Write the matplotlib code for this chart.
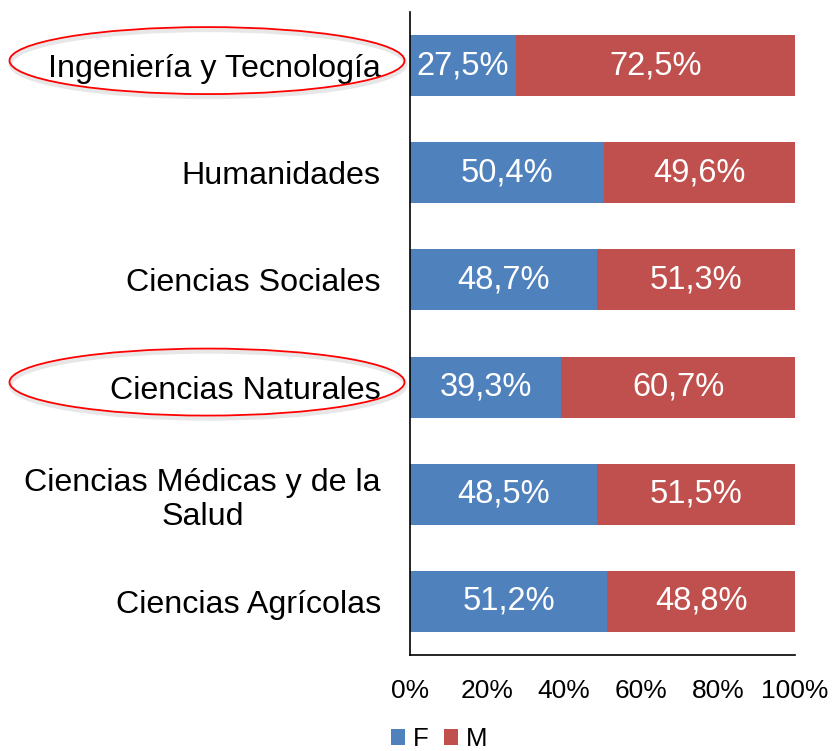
import matplotlib
matplotlib.use("Agg")
import matplotlib.pyplot as plt
from matplotlib.patches import Ellipse
import numpy as np

plt.rcParams['font.family'] = ['Liberation Sans', 'DejaVu Sans']

categories = ["Ingeniería y Tecnología", "Humanidades", "Ciencias Sociales",
              "Ciencias Naturales", "Ciencias Médicas y de la\nSalud", "Ciencias Agrícolas"]
f_vals = [27.5, 50.4, 48.7, 39.3, 48.5, 51.2]
m_vals = [72.5, 49.6, 51.3, 60.7, 51.5, 48.8]
xticks = [0, 20, 40, 60, 80, 100]
highlighted = ["Ingeniería y Tecnología", "Ciencias Naturales"]

blue = "#4F81BD"
red = "#C0504D"

W, H = 833, 751
fig = plt.figure(figsize=(W/100, H/100), dpi=100)
ax = fig.add_axes([410/W, 1-655/H, (795-410)/W, (655-12)/H])

y = np.arange(len(categories))
bh = 0.57
ax.barh(y, f_vals, height=bh, color=blue, label="F")
ax.barh(y, m_vals, left=f_vals, height=bh, color=red, label="M")

for i in range(len(categories)):
    ax.text(f_vals[i]/2, y[i], f"{f_vals[i]:.1f}%".replace('.', ','), color='white',
            ha='center', va='center', fontsize=23.5)
    ax.text(f_vals[i] + m_vals[i]/2, y[i], f"{m_vals[i]:.1f}%".replace('.', ','), color='white',
            ha='center', va='center', fontsize=23.5)

ax.set_ylim(len(categories)-0.5, -0.5)
ax.set_xlim(0, 100)
ax.set_yticks(y)
ax.set_yticklabels(categories, fontsize=23.2, multialignment='center', linespacing=1.17)
ax.set_xticks(xticks)
ax.set_xticklabels([f"{t}%" for t in xticks], fontsize=19)
ax.tick_params(axis='both', length=0)
ax.tick_params(axis='y', pad=21)
ax.tick_params(axis='x', pad=17)
for s in ['top', 'right']:
    ax.spines[s].set_visible(False)
for s in ['left', 'bottom']:
    ax.spines[s].set_linewidth(1.2)

leg = fig.legend(loc='center', bbox_to_anchor=(439/W, 1-739/H), ncol=2, frameon=False,
                 fontsize=18.5, handlelength=0.55, handleheight=0.55, handletextpad=0.3,
                 columnspacing=0.6, borderpad=0.1)

# highlight ellipses
for cat in highlighted:
    idx = categories.index(cat)
    yc_disp = ax.transData.transform((0, y[idx]))[1]
    cy = yc_disp / fig.dpi / (H/100) + 5/H
    cx = 207/W
    for off, col, lw, a in [(0.004, '#bbbbbb', 3, 0.35), (0.0, 'red', 1.3, 1.0)]:
        e = Ellipse((cx + off*0.3, cy - off), width=395/W, height=67/H,
                    transform=fig.transFigure, fill=False, edgecolor=col,
                    linewidth=lw, alpha=a, zorder=5)
        fig.add_artist(e)

fig.savefig("out.png", dpi=100)
